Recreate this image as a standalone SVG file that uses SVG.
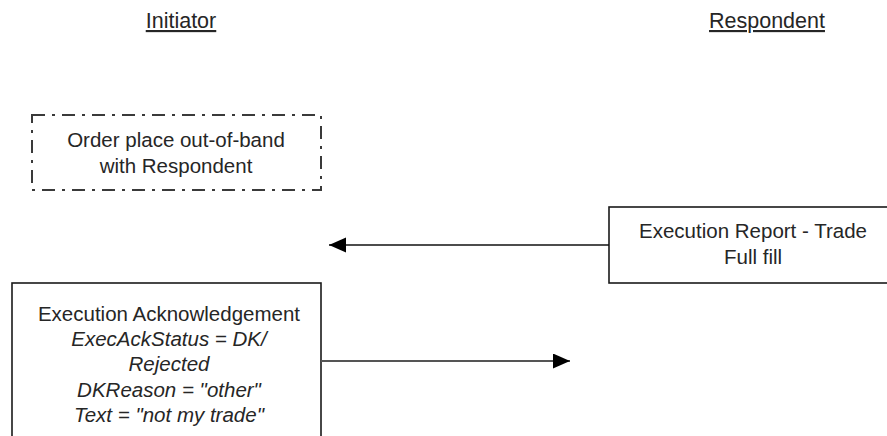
<svg xmlns="http://www.w3.org/2000/svg" width="887" height="436" viewBox="0 0 887 436">
  <style>
    text { font-family: "Liberation Sans", Arial, sans-serif; fill: #262626; text-anchor: middle; }
    .head { font-size: 21.5px; text-decoration: underline; }
    .lbl { font-size: 20.5px; }
    .it { font-style: italic; }
    .box { fill: #ffffff; stroke: #1a1a1a; stroke-width: 1.6; }
    .dash { fill: none; stroke: #3a3a3a; stroke-width: 2; stroke-dasharray: 13 7 3 7; }
    .conn { fill: none; stroke: #111; stroke-width: 1.6; }
    .conn2 { fill: none; stroke: #555; stroke-width: 2.2; }
  </style>
  <defs>
    <marker id="ah" markerUnits="userSpaceOnUse" markerWidth="18" markerHeight="16" refX="17" refY="7.5" orient="auto">
      <path d="M0,0 L17,7.5 L0,15 z" fill="#000"/>
    </marker>
  </defs>
  <rect x="0" y="0" width="887" height="436" fill="#ffffff"/>

  <g id="initiator-head">
    <text class="head" x="181" y="28">Initiator</text>
  </g>
  <g id="respondent-head">
    <text class="head" x="767" y="28">Respondent</text>
  </g>

  <g id="order-out-of-band">
    <rect class="dash" x="32" y="115" width="289" height="75"/>
    <text class="lbl" x="176" y="147">Order place out-of-band</text>
    <text class="lbl" x="176" y="173">with Respondent</text>
  </g>

  <g id="execution-report">
    <rect class="box" x="609" y="207" width="290" height="76"/>
    <text class="lbl" x="753" y="238">Execution Report - Trade</text>
    <text class="lbl" x="753" y="264">Full fill</text>
  </g>

  <g id="execution-ack">
    <rect class="box" x="12" y="283" width="309" height="170"/>
    <text class="lbl" x="169" y="321">Execution Acknowledgement</text>
    <text class="lbl it" x="169" y="346">ExecAckStatus = DK/</text>
    <text class="lbl it" x="169" y="371">Rejected</text>
    <text class="lbl it" x="169" y="397">DKReason = "other"</text>
    <text class="lbl it" x="169" y="422">Text = "not my trade"</text>
  </g>

  <g id="connectors">
    <line class="conn" x1="609" y1="245" x2="329" y2="245" marker-end="url(#ah)"/>
    <line class="conn2" x1="321" y1="361" x2="570" y2="361" marker-end="url(#ah)"/>
  </g>
</svg>
